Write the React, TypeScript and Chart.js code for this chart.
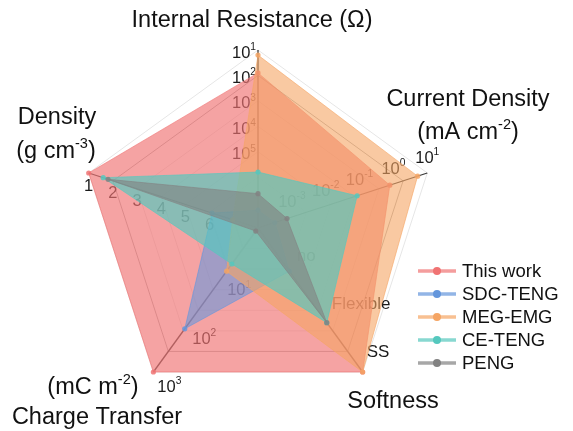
import React, { useEffect, useRef } from "react";
import { Chart, registerables } from "chart.js";

Chart.register(...registerables);

// Axes (clockwise from top)
const axisNames = ["Internal Resistance (Ω)", "Current Density", "Softness", "Charge Transfer", "Density"];

// Values on the chart's normalised radial scale (0 = centre, 7 = outer rim)
const thisWork = [6.1, 5.45, 7, 7, 7];
const sdcTeng = [0.7, 0.7, 2.1, 4.9, 1.9];
const megEmg = [6.8, 6.6, 7, 2.1, 1.05];
const ceTeng = [2.2, 4.1, 4.6, 1.75, 6.4];
const peng = [1.35, 1.2, 4.6, 0.15, 6.2];

const seriesNames = ["This work", "SDC-TENG", "MEG-EMG", "CE-TENG", "PENG"];
const seriesRgb = ["240,115,115", "100,150,220", "245,165,100", "85,200,190", "130,130,130"];
const fillAlpha = [0.66, 0.58, 0.6, 0.68, 0.6];

// Per-axis tick labels (exponents of 10 or text) and their positions on the radial scale
const irTickExp = ["1", "2", "3", "4", "5"];
const irTickPos = [7, 6, 5, 4, 3];
const cdTickExp = ["1", "0", "-1", "-2", "-3"];
const cdTickPos = [7, 5.6, 4.2, 2.8, 1.4];
const softTickText = ["SS", "Flexible", "no"];
const softTickPos = [7, 4.67, 2.33];
const ctTickExp = ["3", "2", "1"];
const ctTickPos = [7, 4.67, 2.33];
const densTickText = ["1", "2", "3", "4", "5", "6"];
const densTickPos = [7, 6, 5, 4, 3, 2];

const FONT = '"Liberation Sans", Arial, sans-serif';

type Part = { t: string; sup?: boolean };

function drawRich(
  ctx: CanvasRenderingContext2D,
  parts: Part[],
  x: number,
  y: number,
  align: "left" | "center" | "right",
  size: number,
  color: string
) {
  const supSize = size * 0.62;
  ctx.textBaseline = "middle";
  ctx.textAlign = "left";
  const widths = parts.map((p) => {
    ctx.font = `${p.sup ? supSize : size}px ${FONT}`;
    return ctx.measureText(p.t).width;
  });
  const total = widths.reduce((a, b) => a + b, 0);
  let cx = align === "left" ? x : align === "center" ? x - total / 2 : x - total;
  ctx.fillStyle = color;
  parts.forEach((p, i) => {
    ctx.font = `${p.sup ? supSize : size}px ${FONT}`;
    ctx.fillText(p.t, cx, p.sup ? y - size * 0.36 : y);
    cx += widths[i];
  });
}

const textPlugin = {
  id: "axisText",
  beforeDatasetsDraw(chart: any) {
    const s = chart.scales.r;
    const ctx: CanvasRenderingContext2D = chart.ctx;
    ctx.save();
    const col = "#1a1a1a";
    const sz = 16.5;
    irTickPos.forEach((v, i) => {
      const p = s.getPointPositionForValue(0, v);
      drawRich(ctx, [{ t: "10" }, { t: irTickExp[i], sup: true }], p.x - 2, p.y + 3, "right", sz, col);
    });
    cdTickPos.forEach((v, i) => {
      const p = s.getPointPositionForValue(1, v);
      drawRich(ctx, [{ t: "10" }, { t: cdTickExp[i], sup: true }], p.x, p.y - 15, "center", sz, col);
    });
    softTickPos.forEach((v, i) => {
      const p = s.getPointPositionForValue(2, v);
      drawRich(ctx, [{ t: softTickText[i] }], p.x + 4, p.y - 20, "left", 17, col);
    });
    ctTickPos.forEach((v, i) => {
      const p = s.getPointPositionForValue(3, v);
      drawRich(ctx, [{ t: "10" }, { t: ctTickExp[i], sup: true }], p.x + 4, p.y + 15, "left", sz, col);
    });
    densTickPos.forEach((v, i) => {
      const p = s.getPointPositionForValue(4, v);
      drawRich(ctx, [{ t: densTickText[i] }], p.x, p.y + 13, "center", sz, col);
    });
    ctx.restore();
  },
  afterDraw(chart: any) {
    const ctx: CanvasRenderingContext2D = chart.ctx;
    ctx.save();
    const T = 23.5;
    const c = "#111";
    drawRich(ctx, [{ t: axisNames[0] }], 252, 21, "center", T, c);
    drawRich(ctx, [{ t: axisNames[1] }], 468, 100, "center", T, c);
    drawRich(ctx, [{ t: "(mA cm" }, { t: "-2", sup: true }, { t: ")" }], 468, 133, "center", T, c);
    drawRich(ctx, [{ t: axisNames[4] }], 57, 118, "center", T, c);
    drawRich(ctx, [{ t: "(g cm" }, { t: "-3", sup: true }, { t: ")" }], 56, 152, "center", T, c);
    drawRich(ctx, [{ t: "(mC m" }, { t: "-2", sup: true }, { t: ")" }], 93, 388, "center", T, c);
    drawRich(ctx, [{ t: axisNames[3] }], 97, 418, "center", T, c);
    drawRich(ctx, [{ t: axisNames[2] }], 393, 402, "center", T, c);

    // legend
    seriesNames.forEach((name, i) => {
      const y = 271 + i * 23;
      ctx.strokeStyle = `rgba(${seriesRgb[i]},0.7)`;
      ctx.lineWidth = 3.5;
      ctx.beginPath();
      ctx.moveTo(418, y);
      ctx.lineTo(456, y);
      ctx.stroke();
      ctx.fillStyle = `rgb(${seriesRgb[i]})`;
      ctx.beginPath();
      ctx.arc(437, y, 4, 0, Math.PI * 2);
      ctx.fill();
      drawRich(ctx, [{ t: name }], 462, y + 1, "left", 18.5, c);
    });
    ctx.restore();
  },
};

export default function App() {
  const ref = useRef<HTMLCanvasElement | null>(null);
  useEffect(() => {
    if (!ref.current) return;
    const all = [thisWork, sdcTeng, megEmg, ceTeng, peng];
    const chart = new Chart(ref.current, {
      type: "radar",
      data: {
        labels: axisNames,
        datasets: all.map((d, i) => ({
          label: seriesNames[i],
          data: d,
          order: 5 - i,
          backgroundColor: `rgba(${seriesRgb[i]},${fillAlpha[i]})`,
          borderColor: `rgba(${seriesRgb[i]},0.6)`,
          borderWidth: 1,
          pointRadius: 2.6,
          pointBackgroundColor: `rgba(${seriesRgb[i]},0.85)`,
          pointBorderWidth: 0,
          fill: true,
        })),
      },
      options: {
        animation: false,
        responsive: true,
        maintainAspectRatio: false,
        layout: { padding: { top: 50, bottom: 25, left: 80, right: 136 } },
        plugins: { legend: { display: false }, tooltip: { enabled: false }, title: { display: false } },
        scales: {
          r: {
            min: 0,
            max: 7,
            startAngle: 0,
            ticks: { display: false, stepSize: 1 },
            pointLabels: { display: false },
            grid: {
              color: (ctx: any) => (ctx.index === 6 ? "rgba(0,0,0,0.3)" : "rgba(0,0,0,0.1)"),
              lineWidth: 1,
            },
            angleLines: { color: "#3a3a3a", lineWidth: 1.3 },
          },
        },
      },
      plugins: [textPlugin],
    });
    return () => chart.destroy();
  }, []);
  return (
    <div style={{ position: "fixed", left: 0, top: 0, width: 573, height: 431, background: "#fff" }}>
      <canvas ref={ref} />
    </div>
  );
}
